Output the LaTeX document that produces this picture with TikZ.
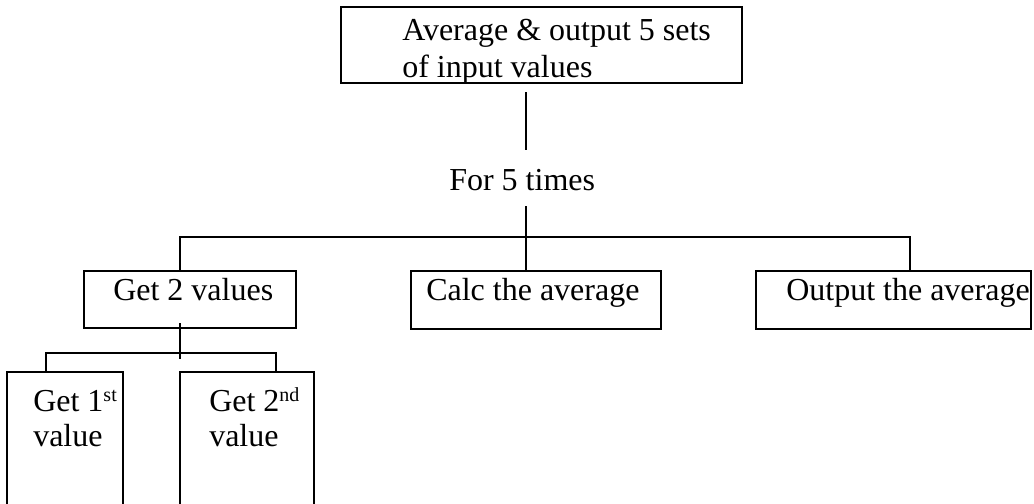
\documentclass[tikz,border=0pt]{standalone}
\usepackage{fontspec}
\setmainfont{Liberation Serif}
\begin{document}
\begin{tikzpicture}[
  x=0.75pt, y=-0.75pt,
  box/.style={draw, line width=1.5pt, inner sep=0pt, outer sep=0pt},
  lbl/.style={anchor=base west, inner sep=0pt, font=\fontsize{24}{28}\selectfont},
  wire/.style={line width=1.5pt}
]
\useasboundingbox (0,0) rectangle (1034,503);
\clip (0,0) rectangle (1034,503);

% boxes
\node[box, minimum width=300.75pt, minimum height=57pt]   (top)  at (541,45)    {};
\node[box, minimum width=159pt,    minimum height=42.75pt] (get2) at (190,299.5) {};
\node[box, minimum width=187.5pt,  minimum height=43.5pt]  (calc) at (536,300)   {};
\node[box, minimum width=206.25pt, minimum height=43.5pt]  (out)  at (893.5,300) {};
\node[box, minimum width=87pt,     minimum height=126pt]   (g1)   at (65,456)    {};
\node[box, minimum width=100.5pt,  minimum height=126pt]   (g2)   at (247,456)   {};

% texts
\node[lbl] (t1a) at (402,41)  {Average \& output 5 sets};
\node[lbl] (t1b) at (402,77.5) {of input values};
\node[lbl, text height=30pt, text depth=12pt] (f5) at (449,190) {For 5 times};
\node[lbl] (tg2) at (113,300) {Get 2 values};
\node[lbl] (tca) at (426,300) {Calc the average};
\node[lbl] (tou) at (786,300) {Output the average};
\node[lbl] (tg1a) at (33,411)  {Get 1{\fontsize{15}{15}\selectfont\raisebox{7.5pt}{st}}};
\node[lbl] (tg1b) at (33,446)  {value};
\node[lbl] (tg2a) at (209,411) {Get 2{\fontsize{15}{15}\selectfont\raisebox{7.5pt}{nd}}};
\node[lbl] (tg2b) at (209,446) {value};

% junction points of the connectors
\coordinate (j0) at (526,237);
\coordinate (b1) at (180,237);
\coordinate (b3) at (910,237);
\coordinate (c0) at (180,353);
\coordinate (c1) at (46,353);
\coordinate (c2) at (276,353);

% connectors
\draw[wire, shorten <=6.75pt] (top.south -| j0) -- (f5.north -| j0);
\draw[wire] (f5.south -| j0) -- (j0);
\draw[wire] (get2.north -| b1) -- (b1) -- (b3) -- (out.north -| b3);
\draw[wire] (j0) -- (calc.north -| j0);
\draw[wire, shorten <=-3.75pt, shorten >=-4.5pt] (get2.south -| c0) -- (c0);
\draw[wire] (g1.north -| c1) |- (c2) -- (g2.north -| c2);
\end{tikzpicture}
\end{document}
